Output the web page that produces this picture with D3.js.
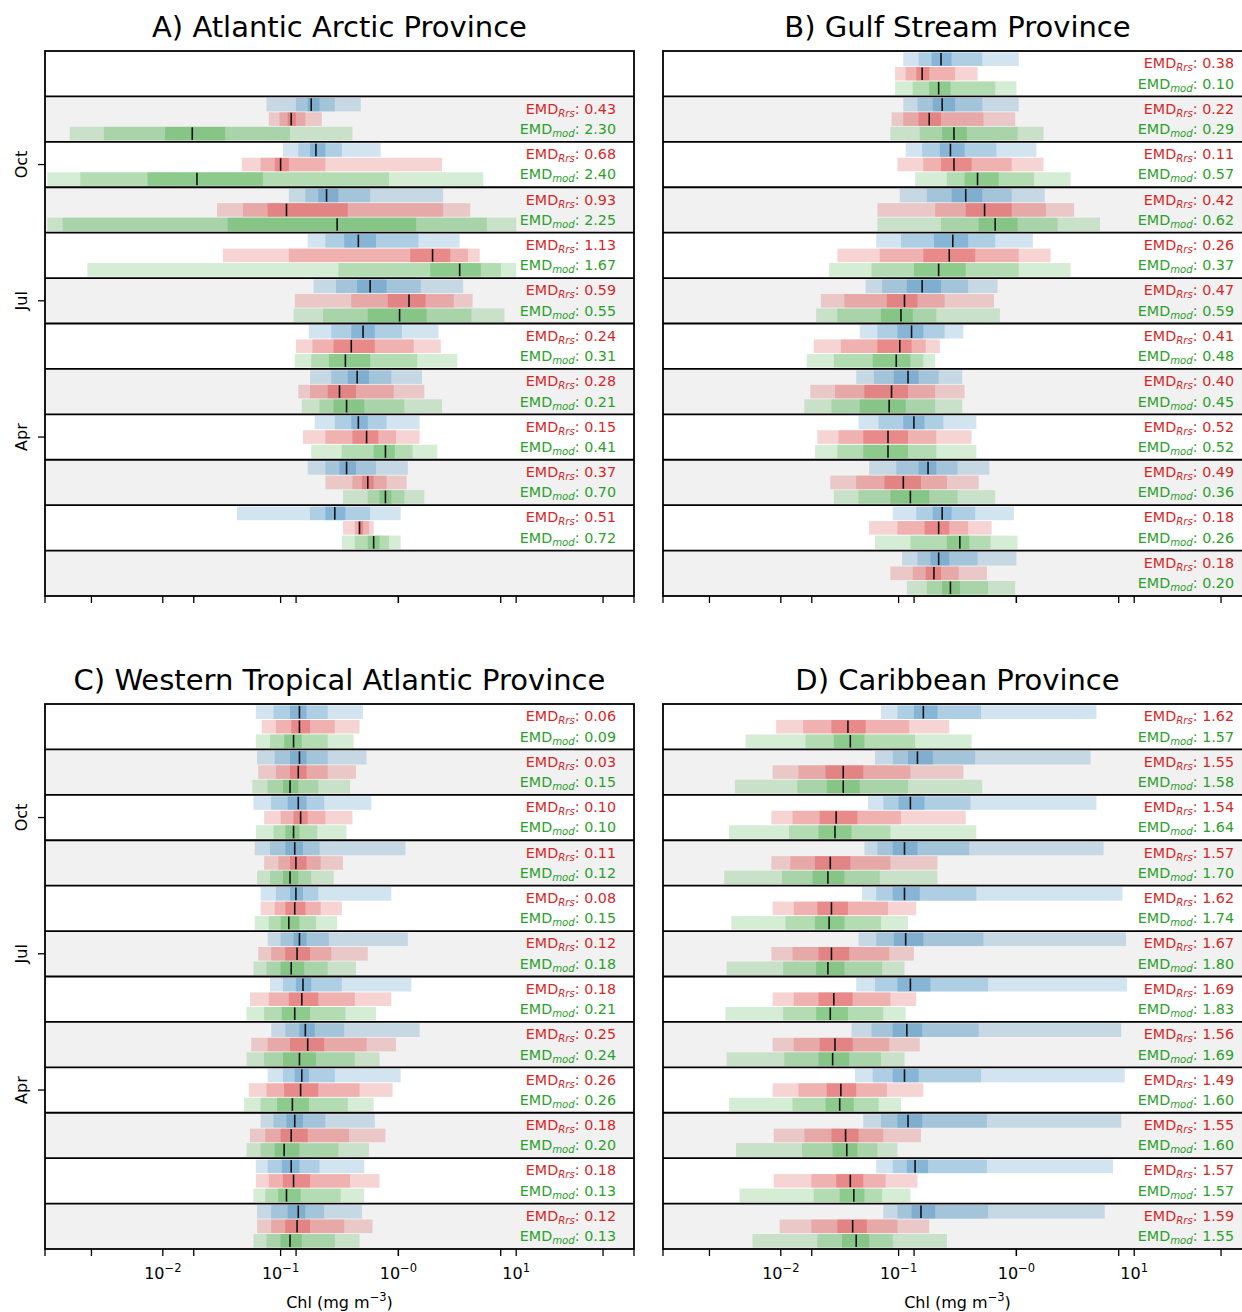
<!DOCTYPE html>
<html>
<head>
<meta charset="utf-8">
<script src="https://cdn.jsdelivr.net/npm/d3@7"></script>
<style>
body { margin: 0; background: #fff; }
svg { display: block; font-family: "DejaVu Sans", sans-serif; }
</style>
</head>
<body>
<div id="chart"></div>
<script>
// rows run top to bottom, December first
var months = ["Dec", "Nov", "Oct", "Sep", "Aug", "Jul", "Jun", "May", "Apr", "Mar", "Feb", "Jan"];
var labelledMonths = ["Oct", "Jul", "Apr"];

// each row: log10 Chl (mg m-3) at the band edges
// [outer lo, mid lo, inner lo, median, inner hi, mid hi, outer hi]
var arcticObs = [
    null,
    [-1.12, -0.87, -0.77, -0.74, -0.67, -0.54, -0.32],
    [-0.98, -0.85, -0.75, -0.70, -0.62, -0.48, -0.15],
    [-0.93, -0.79, -0.68, -0.61, -0.51, -0.24, 0.38],
    [-0.77, -0.62, -0.46, -0.34, -0.19, 0.17, 0.52],
    [-0.72, -0.53, -0.35, -0.24, -0.10, 0.19, 0.55],
    [-0.76, -0.57, -0.40, -0.30, -0.20, 0.03, 0.34],
    [-0.75, -0.57, -0.43, -0.35, -0.25, -0.06, 0.20],
    [-0.71, -0.54, -0.40, -0.34, -0.26, -0.10, 0.18],
    [-0.77, -0.62, -0.50, -0.44, -0.36, -0.19, 0.08],
    [-1.37, -0.75, -0.62, -0.54, -0.45, -0.24, 0.02],
    null
];
var arcticRrs = [
    null,
    [-1.10, -1.01, -0.94, -0.91, -0.87, -0.79, -0.65],
    [-1.33, -1.17, -1.05, -1.00, -0.93, -0.62, 0.37],
    [-1.54, -1.32, -1.11, -0.95, -0.43, 0.38, 0.61],
    [-1.49, -0.93, 0.10, 0.29, 0.44, 0.59, 0.69],
    [-0.88, -0.40, -0.09, 0.09, 0.23, 0.47, 0.63],
    [-0.87, -0.73, -0.55, -0.40, -0.20, 0.13, 0.36],
    [-0.85, -0.75, -0.60, -0.50, -0.36, -0.04, 0.22],
    [-0.81, -0.62, -0.39, -0.27, -0.17, -0.02, 0.18],
    [-0.62, -0.39, -0.31, -0.26, -0.21, -0.10, 0.07],
    [-0.47, -0.37, -0.34, -0.33, -0.30, -0.25, -0.21],
    null
];
var arcticMod = [
    null,
    [-2.79, -2.50, -1.98, -1.75, -1.47, -0.92, -0.39],
    [-2.98, -2.70, -2.13, -1.71, -1.15, -0.08, 0.72],
    [-2.98, -2.85, -1.45, -0.52, 0.15, 0.75, 1.00],
    [-2.64, -0.51, 0.27, 0.52, 0.70, 0.87, 1.00],
    [-0.89, -0.64, -0.26, 0.01, 0.24, 0.62, 0.90],
    [-0.88, -0.74, -0.59, -0.45, -0.24, 0.16, 0.50],
    [-0.82, -0.67, -0.55, -0.44, -0.29, 0.05, 0.37],
    [-0.74, -0.48, -0.21, -0.11, -0.03, 0.12, 0.33],
    [-0.47, -0.26, -0.16, -0.11, -0.06, 0.05, 0.22],
    [-0.48, -0.37, -0.26, -0.21, -0.16, -0.08, 0.02],
    null
];
var arcticEmdRrs = [null, 0.43, 0.68, 0.93, 1.13, 0.59, 0.24, 0.28, 0.15, 0.37, 0.51, null];
var arcticEmdMod = [null, 2.30, 2.40, 2.25, 1.67, 0.55, 0.31, 0.21, 0.41, 0.70, 0.72, null];

var gulfObs = [
    [-0.96, -0.83, -0.72, -0.64, -0.55, -0.29, 0.02],
    [-0.96, -0.84, -0.71, -0.63, -0.52, -0.29, 0.02],
    [-0.94, -0.80, -0.65, -0.56, -0.44, -0.17, 0.17],
    [-0.99, -0.76, -0.55, -0.43, -0.29, -0.04, 0.24],
    [-1.19, -0.98, -0.70, -0.54, -0.41, -0.18, 0.14],
    [-1.28, -1.14, -0.93, -0.80, -0.64, -0.41, -0.16],
    [-1.33, -1.18, -1.01, -0.89, -0.79, -0.61, -0.45],
    [-1.36, -1.21, -1.04, -0.92, -0.83, -0.66, -0.46],
    [-1.34, -1.17, -0.96, -0.87, -0.78, -0.62, -0.34],
    [-1.25, -1.02, -0.83, -0.75, -0.68, -0.50, -0.23],
    [-1.05, -0.85, -0.71, -0.63, -0.55, -0.35, -0.02],
    [-0.97, -0.84, -0.73, -0.66, -0.57, -0.33, 0.00]
];
var gulfRrs = [
    [-1.03, -0.94, -0.85, -0.80, -0.74, -0.52, -0.33],
    [-1.06, -0.96, -0.83, -0.74, -0.64, -0.28, -0.01],
    [-1.01, -0.79, -0.64, -0.53, -0.38, -0.04, 0.23],
    [-1.18, -0.69, -0.43, -0.27, -0.04, 0.25, 0.49],
    [-1.52, -1.16, -0.79, -0.57, -0.35, 0.02, 0.29],
    [-1.66, -1.46, -1.10, -0.95, -0.84, -0.61, -0.19],
    [-1.72, -1.49, -1.18, -0.99, -0.89, -0.77, -0.65],
    [-1.75, -1.54, -1.29, -1.06, -0.92, -0.69, -0.44],
    [-1.69, -1.51, -1.30, -1.09, -0.92, -0.68, -0.38],
    [-1.58, -1.36, -1.12, -0.96, -0.81, -0.59, -0.32],
    [-1.25, -1.01, -0.78, -0.66, -0.57, -0.41, -0.21],
    [-1.07, -0.88, -0.77, -0.70, -0.64, -0.49, -0.25]
];
var gulfMod = [
    [-1.03, -0.88, -0.74, -0.66, -0.56, -0.18, 0.00],
    [-1.07, -0.82, -0.63, -0.53, -0.42, 0.01, 0.23],
    [-0.86, -0.59, -0.44, -0.33, -0.15, 0.15, 0.46],
    [-1.18, -0.64, -0.32, -0.18, 0.01, 0.35, 0.71],
    [-1.59, -1.23, -0.87, -0.66, -0.43, 0.02, 0.46],
    [-1.70, -1.52, -1.15, -0.98, -0.88, -0.68, -0.14],
    [-1.78, -1.55, -1.22, -1.02, -0.90, -0.79, -0.69],
    [-1.80, -1.57, -1.33, -1.08, -0.94, -0.69, -0.46],
    [-1.71, -1.52, -1.30, -1.09, -0.92, -0.68, -0.34],
    [-1.55, -1.34, -1.07, -0.90, -0.74, -0.50, -0.18],
    [-1.20, -0.90, -0.59, -0.48, -0.40, -0.22, 0.01],
    [-0.93, -0.76, -0.63, -0.56, -0.48, -0.24, -0.01]
];
var gulfEmdRrs = [0.38, 0.22, 0.11, 0.42, 0.26, 0.47, 0.41, 0.40, 0.52, 0.49, 0.18, 0.18];
var gulfEmdMod = [0.10, 0.29, 0.57, 0.62, 0.37, 0.59, 0.48, 0.45, 0.52, 0.36, 0.26, 0.20];

var wtraObs = [
    [-1.21, -1.06, -0.92, -0.84, -0.78, -0.60, -0.30],
    [-1.20, -1.05, -0.92, -0.84, -0.78, -0.60, -0.27],
    [-1.23, -1.08, -0.94, -0.85, -0.78, -0.63, -0.23],
    [-1.22, -1.09, -0.96, -0.88, -0.81, -0.67, 0.06],
    [-1.17, -1.04, -0.92, -0.87, -0.81, -0.68, -0.06],
    [-1.11, -1.00, -0.89, -0.84, -0.78, -0.59, 0.08],
    [-1.09, -0.98, -0.87, -0.81, -0.74, -0.48, 0.11],
    [-1.08, -0.96, -0.84, -0.79, -0.71, -0.46, 0.18],
    [-1.11, -0.98, -0.88, -0.82, -0.76, -0.54, 0.02],
    [-1.17, -1.06, -0.95, -0.88, -0.81, -0.62, -0.20],
    [-1.21, -1.11, -0.99, -0.91, -0.84, -0.67, -0.29],
    [-1.20, -1.08, -0.94, -0.85, -0.79, -0.63, -0.31]
];
var wtraRrs = [
    [-1.16, -1.04, -0.91, -0.84, -0.75, -0.54, -0.33],
    [-1.19, -1.04, -0.92, -0.85, -0.78, -0.60, -0.36],
    [-1.14, -1.00, -0.89, -0.83, -0.77, -0.62, -0.39],
    [-1.14, -1.02, -0.92, -0.87, -0.78, -0.66, -0.47],
    [-1.17, -1.05, -0.96, -0.88, -0.79, -0.66, -0.48],
    [-1.19, -1.08, -0.96, -0.86, -0.75, -0.57, -0.26],
    [-1.26, -1.10, -0.93, -0.82, -0.68, -0.37, -0.06],
    [-1.25, -1.11, -0.92, -0.77, -0.63, -0.27, -0.02],
    [-1.27, -1.12, -0.97, -0.83, -0.68, -0.33, -0.05],
    [-1.26, -1.13, -1.00, -0.91, -0.77, -0.42, -0.11],
    [-1.21, -1.10, -0.98, -0.89, -0.75, -0.41, -0.16],
    [-1.20, -1.08, -0.96, -0.86, -0.75, -0.46, -0.22]
];
var wtraMod = [
    [-1.21, -1.09, -0.97, -0.89, -0.82, -0.60, -0.38],
    [-1.24, -1.11, -0.98, -0.92, -0.85, -0.68, -0.41],
    [-1.21, -1.06, -0.96, -0.89, -0.84, -0.69, -0.44],
    [-1.20, -1.09, -0.98, -0.92, -0.85, -0.74, -0.55],
    [-1.22, -1.10, -1.00, -0.93, -0.84, -0.70, -0.52],
    [-1.23, -1.12, -1.00, -0.91, -0.80, -0.60, -0.36],
    [-1.29, -1.14, -0.99, -0.88, -0.75, -0.45, -0.19],
    [-1.29, -1.14, -0.98, -0.84, -0.70, -0.37, -0.16],
    [-1.31, -1.17, -1.03, -0.90, -0.76, -0.43, -0.21],
    [-1.29, -1.17, -1.05, -0.97, -0.84, -0.51, -0.25],
    [-1.23, -1.13, -1.02, -0.95, -0.83, -0.49, -0.29],
    [-1.23, -1.12, -1.00, -0.92, -0.82, -0.54, -0.33]
];
var wtraEmdRrs = [0.06, 0.03, 0.10, 0.11, 0.08, 0.12, 0.18, 0.25, 0.26, 0.18, 0.18, 0.12];
var wtraEmdMod = [0.09, 0.15, 0.10, 0.12, 0.15, 0.18, 0.21, 0.24, 0.26, 0.20, 0.13, 0.13];

var caribObs = [
    [-1.15, -1.01, -0.87, -0.79, -0.67, -0.30, 0.68],
    [-1.20, -1.05, -0.92, -0.84, -0.71, -0.35, 0.63],
    [-1.26, -1.13, -1.00, -0.90, -0.78, -0.39, 0.68],
    [-1.29, -1.18, -1.05, -0.95, -0.84, -0.40, 0.74],
    [-1.31, -1.19, -1.05, -0.95, -0.82, -0.34, 0.90],
    [-1.34, -1.19, -1.04, -0.94, -0.79, -0.28, 0.93],
    [-1.36, -1.20, -1.01, -0.90, -0.73, -0.24, 0.94],
    [-1.40, -1.23, -1.05, -0.93, -0.80, -0.32, 0.89],
    [-1.37, -1.22, -1.05, -0.95, -0.83, -0.30, 0.92],
    [-1.30, -1.15, -1.01, -0.92, -0.80, -0.25, 0.89],
    [-1.19, -1.05, -0.93, -0.86, -0.75, -0.25, 0.82],
    [-1.13, -1.01, -0.89, -0.81, -0.69, -0.24, 0.75]
];
var caribRrs = [
    [-2.04, -1.81, -1.57, -1.43, -1.28, -0.91, -0.57],
    [-2.07, -1.85, -1.62, -1.47, -1.30, -0.90, -0.45],
    [-2.08, -1.90, -1.67, -1.53, -1.35, -0.98, -0.43],
    [-2.08, -1.92, -1.71, -1.58, -1.41, -1.07, -0.67],
    [-2.07, -1.89, -1.69, -1.57, -1.43, -1.09, -0.85],
    [-2.08, -1.90, -1.68, -1.57, -1.42, -1.08, -0.87],
    [-2.07, -1.89, -1.68, -1.55, -1.39, -1.07, -0.85],
    [-2.07, -1.89, -1.67, -1.54, -1.39, -1.08, -0.82],
    [-2.07, -1.85, -1.61, -1.49, -1.36, -1.10, -0.79],
    [-2.06, -1.80, -1.57, -1.45, -1.34, -1.13, -0.81],
    [-2.06, -1.74, -1.53, -1.41, -1.30, -1.11, -0.84],
    [-2.01, -1.74, -1.52, -1.39, -1.27, -1.01, -0.74]
];
var caribMod = [
    [-2.30, -1.79, -1.55, -1.41, -1.29, -0.86, -0.38],
    [-2.39, -1.86, -1.61, -1.47, -1.33, -0.92, -0.29],
    [-2.44, -1.93, -1.68, -1.54, -1.40, -1.07, -0.34],
    [-2.48, -1.99, -1.73, -1.60, -1.46, -1.16, -0.67],
    [-2.42, -1.96, -1.71, -1.59, -1.46, -1.15, -0.92],
    [-2.46, -1.98, -1.70, -1.60, -1.46, -1.14, -0.95],
    [-2.47, -1.98, -1.70, -1.58, -1.43, -1.13, -0.94],
    [-2.46, -1.97, -1.68, -1.56, -1.42, -1.15, -0.95],
    [-2.44, -1.90, -1.62, -1.50, -1.38, -1.17, -0.98],
    [-2.38, -1.82, -1.56, -1.44, -1.35, -1.18, -1.01],
    [-2.35, -1.72, -1.50, -1.38, -1.29, -1.14, -0.90],
    [-2.24, -1.69, -1.48, -1.36, -1.25, -1.05, -0.59]
];
var caribEmdRrs = [1.62, 1.55, 1.54, 1.57, 1.62, 1.67, 1.69, 1.56, 1.49, 1.55, 1.57, 1.59];
var caribEmdMod = [1.57, 1.58, 1.64, 1.70, 1.74, 1.80, 1.83, 1.69, 1.60, 1.60, 1.57, 1.55];

// x ticks: labelled decades, plus unlabelled ticks at even natural-log steps
var decadeTicks = [-3, -2, -1, 0, 1, 2];
var decadeLabels = ["", "\u22122", "\u22121", "\u22120", "1", ""];
var lnTicks = [-6, -4, -2, 0, 2, 4];

var w = 1242, h = 1312;
var pw = 589, ph = 545, rowH = ph / 12, barH = 13.6;

var panels = [
    {title: "A) Atlantic Arctic Province", obs: arcticObs, rrs: arcticRrs, mod: arcticMod,
        emdRrs: arcticEmdRrs, emdMod: arcticEmdMod, left: 45, top: 51, yAxis: true, xLabels: false},
    {title: "B) Gulf Stream Province", obs: gulfObs, rrs: gulfRrs, mod: gulfMod,
        emdRrs: gulfEmdRrs, emdMod: gulfEmdMod, left: 663, top: 51, yAxis: false, xLabels: false},
    {title: "C) Western Tropical Atlantic Province", obs: wtraObs, rrs: wtraRrs, mod: wtraMod,
        emdRrs: wtraEmdRrs, emdMod: wtraEmdMod, left: 45, top: 704, yAxis: true, xLabels: true},
    {title: "D) Caribbean Province", obs: caribObs, rrs: caribRrs, mod: caribMod,
        emdRrs: caribEmdRrs, emdMod: caribEmdMod, left: 663, top: 704, yAxis: false, xLabels: true}
];

var series = [
    {key: "obs", color: "#1f77b4"},
    {key: "rrs", color: "#d62728"},
    {key: "mod", color: "#2ca02c"}
];
// outer, middle and inner bands are stacked with the same colour
var bands = [[0, 6, 0.2], [1, 5, 0.2], [2, 4, 0.28]];

var x = d3.scaleLog().domain([1e-3, 1e2]).range([0, pw]);
var y = d3.scaleBand().domain(months).range([0, ph]);
var ySub = d3.scalePoint().domain(series.map(function (s) { return s.key; }))
    .range([rowH / 2 - 14.5, rowH / 2 + 14.5]);

var svg = d3.select("#chart")
    .append("svg")
    .attr("width", w)
    .attr("height", h);

svg.append("rect").attr("width", w).attr("height", h).attr("fill", "#fff");

panels.forEach(function (p) {
    var g = svg.append("g").attr("transform", "translate(" + p.left + "," + p.top + ")");

    g.append("text")
        .attr("x", pw / 2)
        .attr("y", -14.5)
        .attr("text-anchor", "middle")
        .attr("font-size", 29)
        .text(p.title);

    var rows = g.selectAll("g.row")
        .data(months)
        .enter()
        .append("g")
        .attr("class", "row")
        .attr("transform", function (d) { return "translate(0," + y(d) + ")"; });

    rows.append("rect")
        .attr("width", pw)
        .attr("height", rowH)
        .attr("fill", function (d, i) { return i % 2 ? "#f1f1f1" : "#fff"; });

    series.forEach(function (s) {
        var sg = rows.filter(function (d, i) { return p[s.key][i]; })
            .append("g")
            .attr("transform", function () { return "translate(0," + (ySub(s.key) - barH / 2) + ")"; });

        bands.forEach(function (b) {
            sg.append("rect")
                .attr("x", function (d) { return x(Math.pow(10, p[s.key][months.indexOf(d)][b[0]])); })
                .attr("width", function (d) {
                    var v = p[s.key][months.indexOf(d)];
                    return x(Math.pow(10, v[b[1]])) - x(Math.pow(10, v[b[0]]));
                })
                .attr("height", barH)
                .attr("fill", s.color)
                .attr("fill-opacity", b[2]);
        });

        sg.append("line")
            .attr("x1", function (d) { return x(Math.pow(10, p[s.key][months.indexOf(d)][3])); })
            .attr("x2", function (d) { return x(Math.pow(10, p[s.key][months.indexOf(d)][3])); })
            .attr("y1", 0.5)
            .attr("y2", barH - 0.5)
            .attr("stroke", "#111")
            .attr("stroke-width", 1.6);
    });

    function emd(sel, key, sub, color, dy) {
        var t = sel.filter(function (d, i) { return p[key][i] != null; })
            .append("text")
            .attr("x", 571)
            .attr("y", dy)
            .attr("text-anchor", "end")
            .attr("font-size", 14.3)
            .attr("fill", color);
        t.append("tspan").text("EMD");
        t.append("tspan").attr("font-style", "italic").attr("font-size", 10.2).attr("dy", 3).text(sub);
        t.append("tspan").attr("dy", -3).text(function (d, i) {
            return ": " + p[key][months.indexOf(d)].toFixed(2);
        });
    }
    emd(rows, "emdRrs", "Rrs", "#d62728", 17.3);
    emd(rows, "emdMod", "mod", "#2ca02c", 37.6);

    // row separators and frame
    g.selectAll("line.sep")
        .data(months.slice(1))
        .enter()
        .append("line")
        .attr("x1", 0).attr("x2", pw)
        .attr("y1", function (d) { return y(d); })
        .attr("y2", function (d) { return y(d); })
        .attr("stroke", "#000")
        .attr("stroke-width", 1.8);
    g.append("rect")
        .attr("width", pw).attr("height", ph)
        .attr("fill", "none")
        .attr("stroke", "#000")
        .attr("stroke-width", 1.8);

    // x ticks
    var tickVals = lnTicks.map(Math.exp).concat(decadeTicks.map(function (k) { return Math.pow(10, k); }));
    g.selectAll("line.xt")
        .data(tickVals)
        .enter()
        .append("line")
        .attr("x1", function (d) { return x(d); })
        .attr("x2", function (d) { return x(d); })
        .attr("y1", ph)
        .attr("y2", ph + 7)
        .attr("stroke", "#000")
        .attr("stroke-width", 1.3);

    if (p.xLabels) {
        var lab = g.selectAll("text.xl")
            .data(decadeTicks.filter(function (k, i) { return decadeLabels[i]; }))
            .enter()
            .append("text")
            .attr("x", function (d) { return x(Math.pow(10, d)); })
            .attr("y", ph + 30)
            .attr("text-anchor", "middle")
            .attr("font-size", 16);
        lab.append("tspan").text("10");
        lab.append("tspan")
            .attr("dy", -7)
            .attr("font-size", 11.5)
            .text(function (d) { return decadeLabels[decadeTicks.indexOf(d)]; });

        var xl = g.append("text")
            .attr("x", pw / 2)
            .attr("y", ph + 59)
            .attr("text-anchor", "middle")
            .attr("font-size", 16);
        xl.append("tspan").text("Chl (mg m");
        xl.append("tspan").attr("dy", -7).attr("font-size", 11.5).text("\u22123");
        xl.append("tspan").attr("dy", 7).text(")");
    }

    if (p.yAxis) {
        var yt = g.selectAll("g.yt")
            .data(labelledMonths)
            .enter()
            .append("g")
            .attr("transform", function (d) { return "translate(0," + (y(d) + rowH / 2) + ")"; });
        yt.append("line")
            .attr("x1", -7).attr("x2", 0)
            .attr("stroke", "#000")
            .attr("stroke-width", 1.3);
        yt.append("text")
            .attr("transform", "translate(-18.5,0) rotate(-90)")
            .attr("text-anchor", "middle")
            .attr("font-size", 16)
            .text(function (d) { return d; });
    }
});
</script>
</body>
</html>
